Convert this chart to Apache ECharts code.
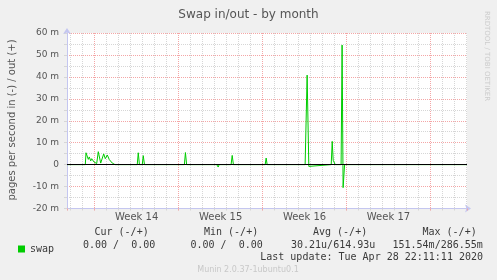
<!DOCTYPE html>
<html>
<head>
<meta charset="utf-8">
<script src="https://cdn.jsdelivr.net/npm/echarts@6/dist/echarts.min.js"></script>
<style>
html,body{margin:0;padding:0;background:#f0f0f0;}
#c{width:497px;height:280px;}
</style>
</head>
<body>
<div id="c"></div>
<script>
// ---- data (time in days since Monday of Week 14; values in milli-pages/s) ----
const timeDays = [-2.31, -0.783, -0.725, -0.533, -0.45, -0.333, -0.25, -0.058, 0.025, 0.167, 0.3, 0.5, 0.75, 0.883, 1.05, 1.217, 1.358, 1.467, 1.55, 1.692,
  3.55, 3.633, 3.73, 3.967, 4.05, 4.15,
  7.48, 7.567, 7.667,
  10.18, 10.3, 10.375,
  11.375, 11.467, 11.567,
  14.217, 14.3, 14.383,
  17.55, 17.717, 17.858, 17.942,
  19.725, 19.808, 19.89, 19.99, 20.06,
  20.55, 20.633, 20.717, 20.842,
  31.05];
const swapValues = [0, 0, 5.4, 2.4, 3.5, 1.7, 2.7, 1.2, 2.0, 0.5, 5.9, 0.7, 4.9, 2.7, 4.4, 2.3, 3.0, 0.7, 1.0, 0,
  0, 5.4, 0, 0, 4.1, 0,
  0, 5.5, 0,
  0, -1.1, 0,
  0, 4.2, 0,
  0, 3.0, 0,
  0, 40.8, -0.8, 0,
  0, 10.6, 2.0, 1.5, 0,
  0, 54.5, -10.5, 0,
  0];
const weekLabels = ['Week 14', 'Week 15', 'Week 16', 'Week 17'];
const yTicks = {min: -20, max: 60, step: 5, labelStep: 10};
const xRange = {min: -2.31, max: 31.05};
const legendHeaders = ['Cur (-/+)', 'Min (-/+)', 'Avg (-/+)', 'Max (-/+)'];
const legendValues = ['0.00 /  0.00', '0.00 /  0.00', '30.21u/614.93u', '151.54m/286.55m'];
const seriesName = 'swap';
const lastUpdate = 'Last update: Tue Apr 28 22:11:11 2020';

const chart = echarts.init(document.getElementById('c'), null, {renderer: 'canvas'});
const seriesData = timeDays.map((t, i) => [t, swapValues[i]]);
const SANS = 'DejaVu Sans';
const MONO = 'DejaVu Sans Mono';
const AXIS_BLUE = '#c4c6f0';
const RED = '#f4a6a6';
const GRAY = '#d6d6d6';

const isInt = v => Math.abs(v - Math.round(v)) < 1e-6;

const monoText = (x, y, text, align) => ({
  type: 'text', x: x, y: y,
  style: {text: text, font: '10px "' + MONO + '"', fill: '#3a3a3a', align: align || 'left', verticalAlign: 'middle'}
});

const headerX = [94.5, 204, 313, 422.5];
const valueX = [83, 190.5, 291, 392.5];

const graphics = [
  {type: 'text', x: 12, y: 120, rotation: Math.PI / 2,
   style: {text: 'pages per second in (-) / out (+)', font: '10px "' + SANS + '"', fill: '#555', align: 'center', verticalAlign: 'middle'}},
  {type: 'text', x: 487, y: 56, rotation: -Math.PI / 2,
   style: {text: 'RRDTOOL / TOBI OETIKER', font: '7px "' + SANS + '"', fill: '#cccccc', align: 'center', verticalAlign: 'middle'}},
  {type: 'text', x: 248, y: 269.5,
   style: {text: 'Munin 2.0.37-1ubuntu0.1', font: '8px "' + SANS + '"', fill: '#c8c8c8', align: 'center', verticalAlign: 'middle'}},
  monoText(483, 257, lastUpdate, 'right')
];
legendHeaders.forEach((h, i) => graphics.push(monoText(headerX[i], 232.5, h)));
legendValues.forEach((v, i) => graphics.push(monoText(valueX[i], 245, v)));

const option = {
  animation: false,
  backgroundColor: '#f0f0f0',
  title: {
    text: 'Swap in/out - by month', left: 'center', top: 4,
    textStyle: {fontFamily: SANS, fontSize: 12, fontWeight: 'normal', color: '#555'}
  },
  legend: {
    data: [seriesName], left: 13, top: 239, icon: 'rect', itemWidth: 7, itemHeight: 7, itemGap: 0,
    textStyle: {fontFamily: MONO, fontSize: 10, color: '#3a3a3a'}
  },
  grid: {left: 67, right: 30, top: 33, bottom: 71.5, show: true, backgroundColor: '#ffffff', borderWidth: 0},
  xAxis: [
    { // days: minor grid
      type: 'value', position: 'bottom', min: xRange.min, max: xRange.max, splitNumber: 33,
      axisLine: {show: true, onZero: false, lineStyle: {color: AXIS_BLUE, width: 1}, symbol: ['none', 'arrow'], symbolSize: [6, 6], symbolOffset: [0, 4]},
      axisTick: {show: true, length: 2, lineStyle: {color: GRAY}},
      axisLabel: {show: false},
      splitLine: {show: true, showMinLine: false, showMaxLine: false, lineStyle: {color: GRAY, type: 'dotted', width: 1}}
    },
    { // weeks: major grid
      type: 'value', position: 'bottom', min: xRange.min / 7, max: xRange.max / 7, splitNumber: 4, z: 1,
      axisLine: {show: false, onZero: false},
      axisTick: {show: true, length: 2, lineStyle: {color: RED}},
      axisLabel: {show: false},
      splitLine: {show: true, showMinLine: false, showMaxLine: false, lineStyle: {color: RED, type: 'dotted', width: 1}}
    },
    { // week labels, centered between week lines
      type: 'value', position: 'bottom', min: (xRange.min - 3.5) / 7, max: (xRange.max - 3.5) / 7, splitNumber: 4,
      axisLine: {show: false, onZero: false},
      axisTick: {show: false},
      splitLine: {show: false},
      axisLabel: {
        show: true, margin: 4, showMinLabel: false, showMaxLabel: false,
        fontFamily: SANS, fontSize: 10, color: '#555',
        formatter: v => (isInt(v) && weekLabels[Math.round(v)]) ? weekLabels[Math.round(v)] : ''
      }
    }
  ],
  yAxis: {
    type: 'value', min: yTicks.min, max: yTicks.max, interval: yTicks.step,
    axisLine: {show: true, onZero: false, lineStyle: {color: AXIS_BLUE, width: 1}, symbol: ['none', 'arrow'], symbolSize: [6, 6], symbolOffset: [0, 5]},
    axisTick: {show: true, length: 3, lineStyle: {color: GRAY}},
    axisLabel: {
      show: true, margin: 8, fontFamily: SANS, fontSize: 9, color: '#555',
      formatter: v => (Math.round(v) % yTicks.labelStep !== 0) ? '' : (v === 0 ? '0' : (v + ' m'))
    },
    splitLine: {show: true, lineStyle: {color: [RED, GRAY], type: 'dotted', width: 1}}
  },
  series: [{
    name: seriesName, type: 'line', xAxisIndex: 0, yAxisIndex: 0,
    data: seriesData, showSymbol: false, symbol: 'none',
    color: '#00cc00',
    lineStyle: {color: '#00cc00', width: 1},
    z: 3,
    markLine: {
      silent: true, symbol: ['none', 'none'], label: {show: false},
      lineStyle: {color: '#000', type: 'solid', width: 1},
      data: [{yAxis: 0}],
      z: 4
    }
  }],
  graphic: graphics
};
chart.setOption(option);
</script>
</body>
</html>
